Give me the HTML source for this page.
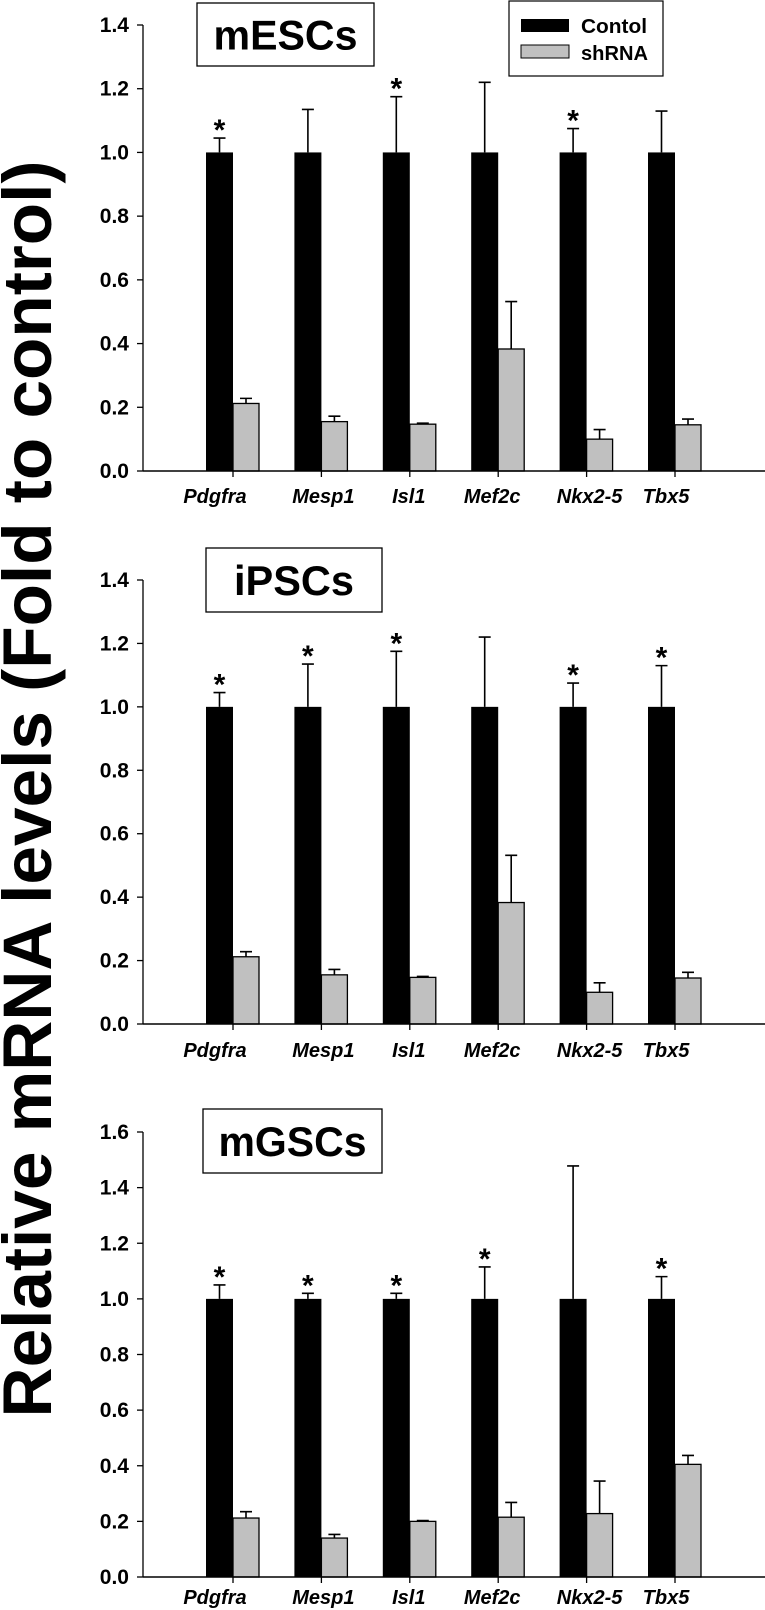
<!DOCTYPE html>
<html><head><meta charset="utf-8"><style>
html,body{margin:0;padding:0;background:#fff;}
svg{display:block;font-family:"Liberation Sans",Arial,sans-serif;}
</style></head><body>
<svg id="chart" width="765" height="1610" viewBox="0 0 765 1610" xmlns="http://www.w3.org/2000/svg">
<text transform="translate(51,789) rotate(-90)" text-anchor="middle" font-size="69" font-weight="bold" textLength="1257" lengthAdjust="spacingAndGlyphs">Relative mRNA levels (Fold to control)</text>
<g>
<rect x="509" y="1" width="154" height="75" fill="#fff" stroke="#000" stroke-width="1.2"/>
<rect x="521" y="19" width="48" height="13" fill="#000"/>
<text x="581" y="33" font-size="20" font-weight="bold" textLength="66" lengthAdjust="spacingAndGlyphs">Contol</text>
<rect x="521" y="45" width="48" height="13" fill="#c0c0c0" stroke="#000" stroke-width="1"/>
<text x="581" y="60" font-size="20" font-weight="bold" textLength="67" lengthAdjust="spacingAndGlyphs">shRNA</text>
</g>
</svg>
<script>
const categories = ["Pdgfra","Mesp1","Isl1","Mef2c","Nkx2-5","Tbx5"];
const panelNames = ["mESCs","iPSCs","mGSCs"];
const mescControl = [1,1,1,1,1,1];
const mescControlErr = [0.045,0.135,0.175,0.22,0.075,0.13];
const mescShrna = [0.212,0.155,0.147,0.383,0.100,0.145];
const mescShrnaErr = [0.016,0.017,0.003,0.149,0.030,0.018];
const mescStars = [1,0,1,0,1,0];
const ipscControl = [1,1,1,1,1,1];
const ipscControlErr = [0.045,0.135,0.175,0.22,0.075,0.13];
const ipscShrna = [0.212,0.155,0.147,0.383,0.100,0.145];
const ipscShrnaErr = [0.016,0.017,0.003,0.149,0.030,0.018];
const ipscStars = [1,1,1,0,1,1];
const mgscControl = [1,1,1,1,1,1];
const mgscControlErr = [0.05,0.02,0.02,0.115,0.478,0.08];
const mgscShrna = [0.212,0.140,0.200,0.215,0.228,0.405];
const mgscShrnaErr = [0.023,0.013,0.003,0.053,0.117,0.032];
const mgscStars = [1,1,1,1,0,1];
const ticksA = ["0.0","0.2","0.4","0.6","0.8","1.0","1.2","1.4"];
const ticksC = ["0.0","0.2","0.4","0.6","0.8","1.0","1.2","1.4","1.6"];

const NS="http://www.w3.org/2000/svg";
const svg=document.getElementById('chart');
function mk(tag,attrs,parent){const e=document.createElementNS(NS,tag);for(const k in attrs)e.setAttribute(k,attrs[k]);(parent||svg).appendChild(e);return e;}
const labelOff=[-18,2,-1,-6,3,-9];

const panels=[
 {name:panelNames[0],key:'mescs',c:mescControl,ce:mescControlErr,s:mescShrna,se:mescShrnaErr,st:mescStars,ticks:ticksA,max:1.4,yTop:25,yBot:471,box:[197,3,177,63],fs:42,tl:144,lab:503},
 {name:panelNames[1],key:'ipscs',c:ipscControl,ce:ipscControlErr,s:ipscShrna,se:ipscShrnaErr,st:ipscStars,ticks:ticksA,max:1.4,yTop:580,yBot:1024,box:[206,548,176,64],fs:42,tl:120,lab:1057},
 {name:panelNames[2],key:'mgscs',c:mgscControl,ce:mgscControlErr,s:mgscShrna,se:mgscShrnaErr,st:mgscStars,ticks:ticksC,max:1.6,yTop:1132,yBot:1577,box:[203,1109,179,64],fs:42,tl:148,lab:1604}
];
const axX=143;
function xTick(i){return 233+i*88.4;}
panels.forEach(p=>{
 const g=mk('g',{});
 
 
 const y=v=>p.yBot-(v/p.max)*(p.yBot-p.yTop);
 const tb=mk('rect',{x:p.box[0],y:p.box[1],width:p.box[2],height:p.box[3],fill:'#fff',stroke:'#000','stroke-width':1.3},g);
 
 
 const tt=mk('text',{x:p.box[0]+p.box[2]/2,y:p.box[1]+p.box[3]/2+p.fs*0.36,'text-anchor':'middle','font-size':p.fs,'font-weight':'bold',textLength:p.tl,lengthAdjust:'spacingAndGlyphs'},g);
 tt.textContent=p.name;
 
 
 categories.forEach((cat,i)=>{
  const t=xTick(i);
  const cb=mk('rect',{x:t-27,y:y(p.c[i]),width:27,height:y(0)-y(p.c[i]),fill:'#000'},g);
  
  
  const ex=t-13.5, et=y(p.c[i]+p.ce[i]);
  const e1=mk('path',{d:`M${ex},${y(p.c[i])}V${et}M${ex-6},${et}H${ex+6}`,stroke:'#000','stroke-width':1.6,fill:'none'},g);
  
  
  if(p.st[i]){const s=mk('text',{x:ex,y:et+2,'text-anchor':'middle','font-size':30,'font-weight':'bold'},g);s.textContent='*';
   
   }
  const sb=mk('rect',{x:t,y:y(p.s[i]),width:26,height:y(0)-y(p.s[i]),fill:'#c0c0c0',stroke:'#000','stroke-width':1.3},g);
  
  
  const sx=t+13, st=y(p.s[i]+p.se[i]);
  const e2=mk('path',{d:`M${sx},${y(p.s[i])}V${st}M${sx-6},${st}H${sx+6}`,stroke:'#000','stroke-width':1.6,fill:'none'},g);
  
  
  const tk=mk('line',{x1:t,x2:t,y1:y(0),y2:y(0)+6,stroke:'#000','stroke-width':1.3},g);
  
  
  const lb=mk('text',{x:t+labelOff[i],y:p.lab,'text-anchor':'middle','font-size':20,'font-weight':'bold','font-style':'italic'},g);
  lb.textContent=cat;
  
  
 });
 const ya=mk('line',{x1:axX,x2:axX,y1:p.yTop,y2:p.yBot,stroke:'#000','stroke-width':1.3},g);
 
 
 const xa=mk('line',{x1:axX,x2:765,y1:p.yBot,y2:p.yBot,stroke:'#000','stroke-width':1.6},g);
 
 
 p.ticks.forEach(tl=>{
  const v=parseFloat(tl), yy=y(v);
  const ln=mk('line',{x1:axX-6,x2:axX,y1:yy,y2:yy,stroke:'#000','stroke-width':1.3},g);
  
  
  const tx=mk('text',{x:129,y:yy+7,'text-anchor':'end','font-size':21,'font-weight':'bold'},g);
  tx.textContent=tl;
  
  
 });
});
</script>
</body></html>
